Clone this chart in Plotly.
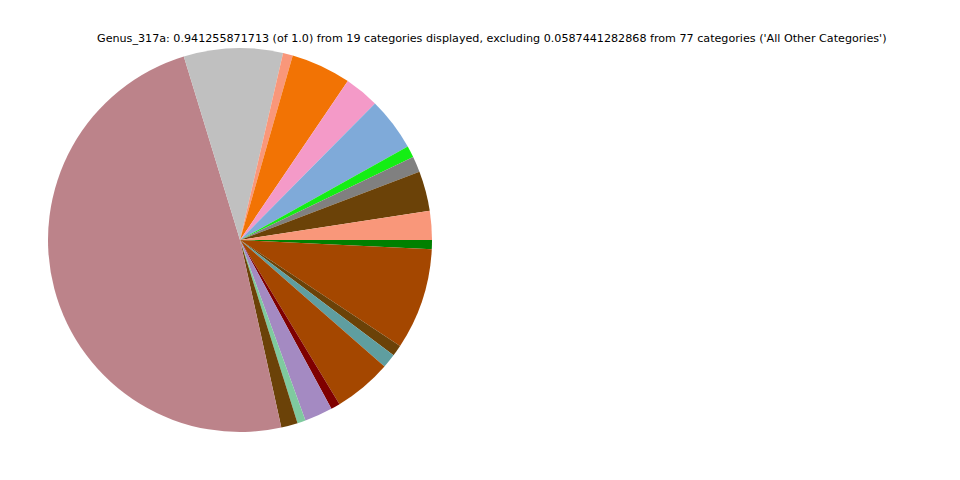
import plotly.graph_objects as go

# listed counterclockwise from 3 o'clock (matplotlib order)
categories = [f"cat_{i+1}" for i in range(19)]
values = [0.0230, 0.0315, 0.0124, 0.0092, 0.0424, 0.0275, 0.0476, 0.0078, 0.0784,
          0.4586, 0.0131, 0.0065, 0.0222, 0.0073, 0.0460, 0.0112, 0.0089, 0.0803, 0.0073]
colors = ["#F9977A", "#6B4208", "#808080", "#14EE14", "#7FAAD9", "#F49AC8", "#F27304",
          "#F9977A", "#C0C0C0", "#BC838A", "#6B4208", "#7FCA9F", "#A48AC2", "#7F0000",
          "#A44700", "#5F9EA0", "#6B4208", "#A44700", "#008000"]
title = ("Genus_317a: 0.941255871713 (of 1.0) from 19 categories displayed, excluding "
         "0.0587441282868 from 77 categories ('All Other Categories')")

# page has an 8px body margin, compensate
off = 8
fig = go.Figure(go.Pie(
    labels=categories[::-1], values=values[::-1], sort=False,
    direction="clockwise", rotation=90,
    marker=dict(colors=colors[::-1], line=dict(width=0)),
    textinfo="none", hoverinfo="label+value",
    domain=dict(x=[(48 - off)/960, (432 - off)/960],
                y=[1 - (432 - off)/480, 1 - (48 - off)/480]),
    showlegend=False,
))
fig.add_annotation(text=title, x=(492.5 - off)/960, y=1 - (39 - off)/480,
                   xref="paper", yref="paper",
                   showarrow=False, xanchor="center", yanchor="middle",
                   font=dict(family="DejaVu Sans", size=11.15, color="black"))
fig.update_layout(width=960, height=480, margin=dict(l=0, r=0, t=0, b=0),
                  paper_bgcolor="white", plot_bgcolor="white")
fig.write_html("out.html")
